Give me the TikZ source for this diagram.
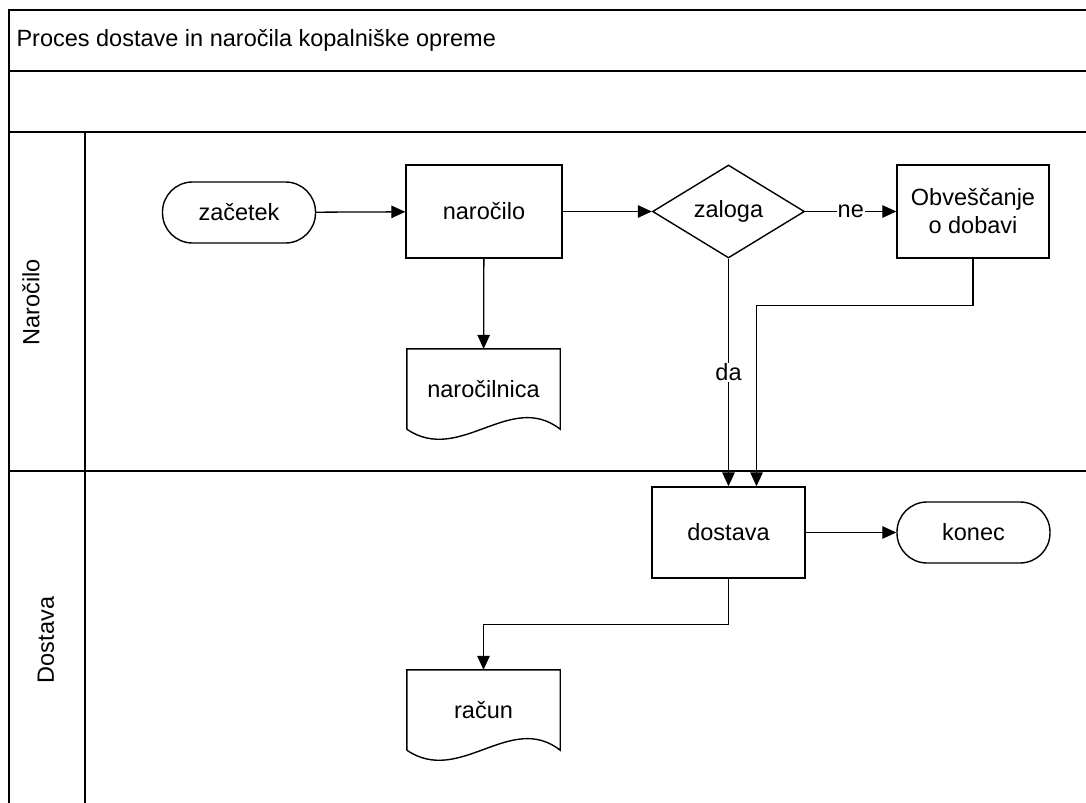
\documentclass[tikz,border=0pt]{standalone}
\usepackage{fontspec}
\setmainfont{Liberation Sans}
\usetikzlibrary{arrows.meta,shapes.geometric}

\tikzset{
  txt/.style={font=\fontsize{23.5bp}{28bp}\selectfont},
  lane/.style={line width=2bp},
  shapebox/.style={draw, line width=1.4bp, inner sep=2bp, align=center, txt},
  procbox/.style={shapebox, rectangle, minimum width=#1, minimum height=93bp},
  terminal/.style={shapebox, rectangle, rounded corners=30bp,
    minimum width=153bp, minimum height=61bp},
  decision/.style={shapebox, diamond, inner sep=0pt,
    minimum width=152bp, minimum height=93bp},
  docbox/.style={txt, rectangle, inner sep=0pt,
    minimum width=153bp, minimum height=80bp, text depth=0pt},
  flow/.style={line width=1.3bp, -{Triangle[length=14bp,width=12.5bp]}},
  flowlabel/.style={fill=white, inner sep=1bp, txt},
  lanelabel/.style={rotate=90, txt}
}

% document symbol: straight top and sides, wavy bottom edge
\newcommand{\docoutline}[1]{%
  \draw[line width=1.4bp] (#1.south west) -- (#1.north west) -- (#1.north east)
    -- (#1.south east) .. controls +(-50,-39) and +(53,36) .. (#1.south west);
}

\begin{document}
\begin{tikzpicture}[x=1bp, y=-1bp]
\useasboundingbox (0,0) rectangle (1086,803);

% pool frame and swimlanes
\draw[lane] (9,803) -- (9,10) -- (1086,10);
\draw[lane] (9,71) -- (1086,71);
\draw[lane] (9,132) -- (1086,132);
\draw[lane] (9,471) -- (1086,471);
\draw[line width=1.6bp] (85,132) -- (85,803);

\node[anchor=west, txt] (title) at (13,40.5)
  {Proces dostave in naročila kopalniške opreme};
\node[lanelabel] (laneA) at (31,302.5) {Naročilo};
\node[lanelabel] (laneB) at (46,640) {Dostava};

% flow elements
\node[terminal] (start) at (239,212.5) {začetek};
\node[procbox=156bp] (order) at (484,211.5) {naročilo};
\node[decision] (stock) at (728.5,211.5) {zaloga};
\node[procbox=152bp] (notify) at (973,211.5) {Obveščanje\\o dobavi};
\node[docbox] (form) at (483.5,389) {naročilnica};
\docoutline{form}

\node[procbox=153bp, minimum height=91bp] (deliver) at (728.5,532.5) {dostava};
\node[terminal] (stop) at (973.5,532.5) {konec};
\node[docbox] (invoice) at (483.5,710) {račun};
\docoutline{invoice}

% connectors
\draw[flow] (start) -- (order);
\draw[flow] (order) -- (stock);
\draw[flow] (stock) -- node[flowlabel] {ne} (notify);
\draw[flow] (order) -- (form);
\draw[flow] (stock.south) -- node[flowlabel] {da} (deliver.north);
\draw[flow] (notify.south) -- ++(0,47) -| ([xshift=28bp]deliver.north);
\draw[flow] (deliver) -- (stop);
\draw[flow] (deliver.south) -- ++(0,46) -| (invoice.north);
\end{tikzpicture}
\end{document}
